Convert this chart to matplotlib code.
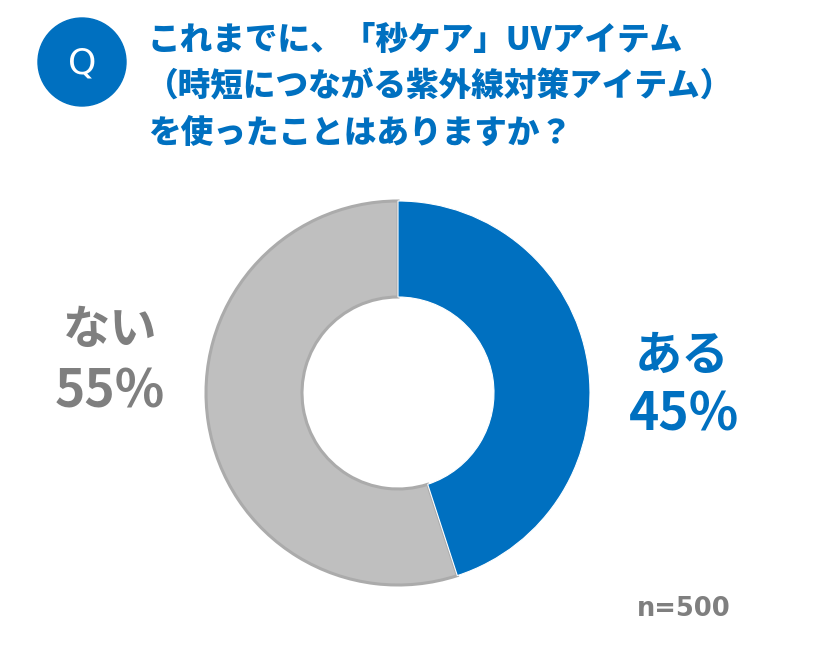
import matplotlib
matplotlib.use("Agg")
import matplotlib.pyplot as plt
from matplotlib.patches import Circle

plt.rcParams['font.family'] = ['Noto Sans CJK JP', 'DejaVu Sans']

categories = ["ある", "ない"]
values = [45, 55]
colors = ["#0070C0", "#BFBFBF"]
title_lines = ["これまでに、「秒ケア」UVアイテム",
               "（時短につながる紫外線対策アイテム）",
               "を使ったことはありますか？"]
n_label = "n=500"

W, H = 816, 648
fig = plt.figure(figsize=(W / 100, H / 100), dpi=100)
ax = fig.add_axes([0, 0, 1, 1])

def Y(y):
    return H - y

cx, cy, R = 398, 393, 192
wedges, _ = ax.pie(values, colors=colors, startangle=90, counterclock=False,
                   center=(cx, Y(cy)), radius=R, frame=True,
                   wedgeprops=dict(width=R * 0.5, linewidth=0))
wedges[1].set_edgecolor('#ABABAB')
wedges[1].set_linewidth(2.2)
wedges[0].set_edgecolor('white')
wedges[0].set_linewidth(0.8)
wedges[0].set_zorder(3)
ax.set_xlim(0, W)
ax.set_ylim(0, H)
ax.set_aspect('auto')
ax.axis('off')

# Q badge
ax.add_patch(Circle((82, Y(62)), 44, color='#0070C0', zorder=5))
ax.text(82, Y(63), "Q", color='white', fontsize=26, ha='center', va='center',
        family=['DejaVu Sans'], zorder=6)

ys = [40, 87, 133]
xs = [148, 146, 148]
for t, y, x in zip(title_lines, ys, xs):
    ax.text(x, Y(y), t, color='#0070C0', fontsize=23.5, fontweight='heavy',
            ha='left', va='center')

# labels
blue, gray = '#0070C0', '#7F7F7F'
ax.text(682, Y(356), categories[0], color=blue, fontsize=34, fontweight='bold',
        ha='center', va='center')
ax.text(684, Y(415), f"{values[0]}%", color=blue, fontsize=37, fontweight='bold',
        ha='center', va='center')
ax.text(110, Y(330), categories[1], color=gray, fontsize=34, fontweight='bold',
        ha='center', va='center')
ax.text(110, Y(392), f"{values[1]}%", color=gray, fontsize=37, fontweight='bold',
        ha='center', va='center')

ax.text(731, Y(609), n_label, color=gray, fontsize=18.5, fontweight='bold',
        ha='right', va='center', family=['DejaVu Sans'])

fig.savefig("out.png", dpi=100)
